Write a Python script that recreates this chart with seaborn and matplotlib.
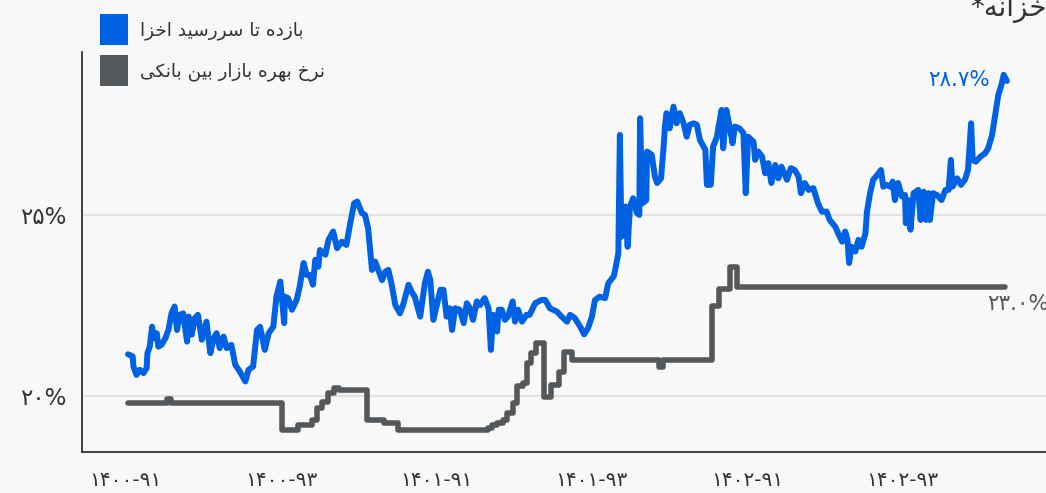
import pandas as pd
import seaborn as sns
import matplotlib.pyplot as plt
from matplotlib.patches import Patch

# x is in quarters counted from 1400-Q1, values in percent
blue_x = [0.03, 0.09, 0.10, 0.14, 0.18, 0.23, 0.27, 0.28, 0.31, 0.34, 0.36, 0.40, 0.42, 0.46, 0.51, 0.55,
          0.59, 0.63, 0.66, 0.70, 0.74, 0.79, 0.81, 0.85, 0.89, 0.93, 0.98, 1.04, 1.09, 1.13, 1.17, 1.21,
          1.26, 1.30, 1.36, 1.41, 1.47, 1.54, 1.58, 1.64, 1.69, 1.73, 1.79, 1.84, 1.90, 1.94, 1.99, 2.04,
          2.05, 2.09, 2.14, 2.20, 2.24, 2.29, 2.33, 2.37, 2.41, 2.44, 2.48, 2.50, 2.57, 2.61, 2.67, 2.72,
          2.78, 2.84, 2.89, 2.94, 2.98, 3.04, 3.08, 3.12, 3.17, 3.21, 3.25, 3.30, 3.34, 3.38, 3.42, 3.47,
          3.53, 3.57, 3.64, 3.68, 3.72, 3.79, 3.85, 3.89, 3.92, 3.96, 4.00, 4.05, 4.09, 4.13, 4.17, 4.20,
          4.24, 4.30, 4.35, 4.39, 4.43, 4.47, 4.52, 4.56, 4.62, 4.67, 4.70, 4.73, 4.78, 4.80, 4.84, 4.88,
          4.92, 4.98, 5.01, 5.05, 5.10, 5.16, 5.20, 5.27, 5.35, 5.40, 5.46, 5.55, 5.61, 5.68, 5.72, 5.78,
          5.85, 5.90, 5.95, 6.00, 6.04, 6.10, 6.17, 6.21, 6.28, 6.30, 6.34, 6.36, 6.38, 6.43, 6.46, 6.49,
          6.53, 6.58, 6.61, 6.62, 6.65, 6.70, 6.71, 6.77, 6.81, 6.84, 6.89, 6.92, 6.94, 6.96, 7.00, 7.05,
          7.09, 7.13, 7.18, 7.22, 7.26, 7.31, 7.35, 7.39, 7.46, 7.48, 7.53, 7.56, 7.61, 7.63, 7.67, 7.69,
          7.73, 7.78, 7.81, 7.84, 7.90, 7.95, 7.98, 8.01, 8.08, 8.10, 8.14, 8.19, 8.23, 8.27, 8.31, 8.36,
          8.40, 8.44, 8.51, 8.56, 8.61, 8.66, 8.69, 8.74, 8.79, 8.85, 8.91, 8.96, 9.02, 9.06, 9.13, 9.17,
          9.22, 9.26, 9.29, 9.31, 9.34, 9.39, 9.43, 9.47, 9.52, 9.54, 9.58, 9.62, 9.69, 9.72, 9.75, 9.79,
          9.84, 9.87, 9.90, 9.94, 9.99, 10.03, 10.04, 10.07, 10.10, 10.14, 10.20, 10.23, 10.27, 10.30, 10.33, 10.35,
          10.39, 10.44, 10.50, 10.55, 10.59, 10.62, 10.64, 10.70, 10.75, 10.80, 10.84, 10.88, 10.90, 10.94, 11.00, 11.06,
          11.10, 11.15, 11.19, 11.23, 11.27, 11.30, 11.34]
blue_y = [21.15, 21.09, 20.81, 20.58, 20.72, 20.63, 20.77, 21.18, 21.36, 21.91, 21.59, 21.73, 21.36, 21.41, 21.59, 21.82,
          22.28, 22.47, 21.82, 22.24, 22.28, 21.50, 22.19, 21.69, 22.15, 22.24, 21.55, 22.05, 21.18, 21.59, 21.73, 21.32,
          21.64, 21.32, 21.41, 20.86, 20.67, 20.40, 20.72, 20.81, 21.82, 21.91, 21.27, 21.73, 21.91, 22.74, 23.16, 22.01,
          22.74, 22.70, 22.38, 22.65, 23.02, 23.67, 23.34, 23.34, 23.07, 23.76, 23.57, 24.03, 23.90, 24.31, 24.54, 24.08,
          24.26, 24.17, 24.77, 25.32, 25.37, 25.05, 25.00, 24.63, 23.48, 23.71, 23.48, 23.20, 23.43, 23.48, 23.11, 22.51,
          22.28, 22.51, 23.07, 22.88, 22.74, 22.19, 23.11, 23.43, 23.20, 22.10, 22.47, 22.93, 22.93, 22.19, 22.42, 21.82,
          22.42, 22.38, 22.01, 22.56, 22.42, 22.10, 22.61, 22.51, 22.70, 22.42, 21.27, 22.24, 21.78, 22.38, 22.38, 22.10,
          22.19, 22.61, 22.05, 22.38, 22.05, 22.24, 22.24, 22.56, 22.65, 22.65, 22.42, 22.33, 22.19, 22.05, 22.24, 22.15,
          21.91, 21.70, 21.87, 22.19, 22.65, 22.74, 22.70, 23.11, 23.30, 23.48, 23.94, 27.21, 24.40, 25.23, 24.12, 25.23,
          25.46, 25.05, 25.00, 27.67, 25.32, 25.41, 26.75, 26.66, 26.06, 25.88, 26.01, 26.80, 27.44, 27.81, 27.39, 27.99,
          27.53, 27.81, 27.53, 27.16, 27.49, 27.53, 27.49, 27.07, 26.80, 25.83, 25.83, 26.89, 27.16, 27.44, 27.90, 26.84,
          27.90, 27.35, 26.98, 27.44, 27.39, 27.26, 25.60, 27.16, 27.02, 26.52, 26.75, 26.61, 26.15, 26.43, 25.88, 26.38,
          26.01, 26.33, 25.97, 26.29, 26.24, 26.06, 25.60, 25.88, 25.69, 25.74, 25.32, 25.09, 25.09, 24.86, 24.68, 24.49,
          24.26, 24.54, 24.31, 23.67, 24.12, 23.99, 24.31, 24.12, 24.49, 25.09, 25.60, 25.97, 26.15, 26.24, 25.78, 25.83,
          25.78, 25.92, 25.41, 25.88, 25.51, 25.55, 24.77, 25.41, 24.59, 25.60, 25.69, 24.86, 25.64, 24.86, 25.60, 24.86,
          25.60, 25.55, 25.41, 25.69, 25.69, 26.52, 25.78, 26.01, 25.83, 25.97, 26.24, 27.53, 26.52, 26.47, 26.61, 26.70,
          26.84, 27.21, 27.76, 28.31, 28.59, 28.87, 28.70]

gray_x = [0.03, 0.53, 0.58, 2.01, 2.22, 2.40, 2.46, 2.53, 2.60, 2.68, 2.75, 3.11, 3.32, 3.50, 4.66, 4.72, 4.78,
          4.85, 4.91, 4.98, 5.04, 5.11, 5.16, 5.21, 5.28, 5.39, 5.47, 5.58, 5.64, 5.75, 6.86, 6.92, 7.55, 7.64,
          7.78, 7.87, 11.32]
gray_y = [19.80, 19.92, 19.80, 19.06, 19.20, 19.34, 19.66, 19.84, 20.07, 20.21, 20.17, 19.34, 19.25, 19.06, 19.11,
          19.20, 19.25, 19.34, 19.52, 19.80, 20.26, 20.35, 20.90, 21.18, 21.46, 19.98, 20.30, 20.67, 21.22, 21.00,
          20.81, 21.00, 22.47, 22.95, 23.57, 23.00, 23.00]

quarter_ticks = list(range(12))
quarter_labels = ['۱۴۰۰-۹۱', '', '۱۴۰۰-۹۳', '', '۱۴۰۱-۹۱', '', '۱۴۰۱-۹۳', '', '۱۴۰۲-۹۱', '', '۱۴۰۲-۹۳', '']
y_ticks = [20, 25]
y_labels = ['۲۰%', '۲۵%']

blue_name = 'بازده تا سررسید اخزا'
gray_name = 'نرخ بهره بازار بین بانکی'
blue = '#0062e3'
gray = '#55585b'
bg = '#f8f8f8'

# matplotlib has no arabic shaping, so pick presentation forms by hand
FORMS = {
    'ا': ('\uFE8D', '\uFE8E', None, None),
    'ب': ('\uFE8F', '\uFE90', '\uFE91', '\uFE92'),
    'ت': ('\uFE95', '\uFE96', '\uFE97', '\uFE98'),
    'خ': ('\uFEA5', '\uFEA6', '\uFEA7', '\uFEA8'),
    'د': ('\uFEA9', '\uFEAA', None, None),
    'ر': ('\uFEAD', '\uFEAE', None, None),
    'ز': ('\uFEAF', '\uFEB0', None, None),
    'س': ('\uFEB1', '\uFEB2', '\uFEB3', '\uFEB4'),
    'ن': ('\uFEE5', '\uFEE6', '\uFEE7', '\uFEE8'),
    'ه': ('\uFEE9', '\uFEEA', '\uFEEB', '\uFEEC'),
    'ی': ('\uFBFC', '\uFBFD', '\uFBFE', '\uFBFF'),
    'ک': ('\uFB8E', '\uFB8F', '\uFB90', '\uFB91'),
}

def fa(text):
    out = []
    for i, ch in enumerate(text):
        if ch not in FORMS:
            out.append(ch)
            continue
        prev = text[i - 1] if i > 0 else ''
        nxt = text[i + 1] if i + 1 < len(text) else ''
        join_prev = prev in FORMS and FORMS[prev][2] is not None
        join_next = FORMS[ch][2] is not None and nxt in FORMS
        iso, fin, ini, med = FORMS[ch]
        if join_prev and join_next:
            out.append(med)
        elif join_prev:
            out.append(fin)
        elif join_next:
            out.append(ini)
        else:
            out.append(iso)
    return ''.join(out)[::-1]

sns.set_style('white')
plt.rcParams['font.family'] = ['DejaVu Sans']

fig = plt.figure(figsize=(10.46, 4.93), dpi=100, facecolor=bg)
ax = fig.add_axes([0.0784, 0.0832, 0.9216, 0.8113], facecolor=bg)

for v in y_ticks:
    ax.axhline(v, color='#e2e2e2', lw=1.5, zorder=0)

sns.lineplot(x=gray_x, y=gray_y, ax=ax, color=gray, lw=4.0, drawstyle='steps-post',
             estimator=None, sort=False, solid_capstyle='round', solid_joinstyle='round')
sns.lineplot(x=blue_x, y=blue_y, ax=ax, color=blue, lw=4.3,
             estimator=None, sort=False, solid_capstyle='round', solid_joinstyle='round')

ax.set_xlim(-0.562, 11.844)
ax.set_ylim(18.45, 29.5)
ax.set_xticks(quarter_ticks)
ax.set_xticklabels(quarter_labels)
ax.set_yticks(y_ticks)
ax.set_yticklabels(y_labels)
ax.tick_params(axis='x', length=7, width=1.3, color='#333333', labelsize=14.5, labelcolor='#333333', pad=7)
ax.tick_params(axis='y', length=7, width=1.3, color='#333333', labelsize=16.5, labelcolor='#333333', pad=4)
ax.set_xlabel('')
ax.set_ylabel('')
for s in ['top', 'right']:
    ax.spines[s].set_visible(False)
for s in ['left', 'bottom']:
    ax.spines[s].set_color('#333333')
    ax.spines[s].set_linewidth(1.3)

ax.text(11.12, 28.73, '۲۸.۷%', color=blue, fontsize=15.5, ha='right', va='center')
ax.text(11.085, 22.54, '۲۳.۰%', color=gray, fontsize=15.5, ha='left', va='center', clip_on=False)

handles = [Patch(facecolor=blue, edgecolor='none'), Patch(facecolor=gray, edgecolor='none')]
fig.legend(handles, [fa(blue_name), fa(gray_name)], loc='upper left', bbox_to_anchor=(0.0956, 0.972),
           frameon=False, fontsize=13.3, handlelength=1.5, handleheight=2.2, labelspacing=0.55,
           handletextpad=0.65, labelcolor='#333333', borderpad=0, borderaxespad=0)

fig.text(1.001, 0.967, fa('خزانه*'), fontsize=20, color='#333333', ha='right', va='baseline')

fig.savefig('out.png', dpi=100, facecolor=bg)
